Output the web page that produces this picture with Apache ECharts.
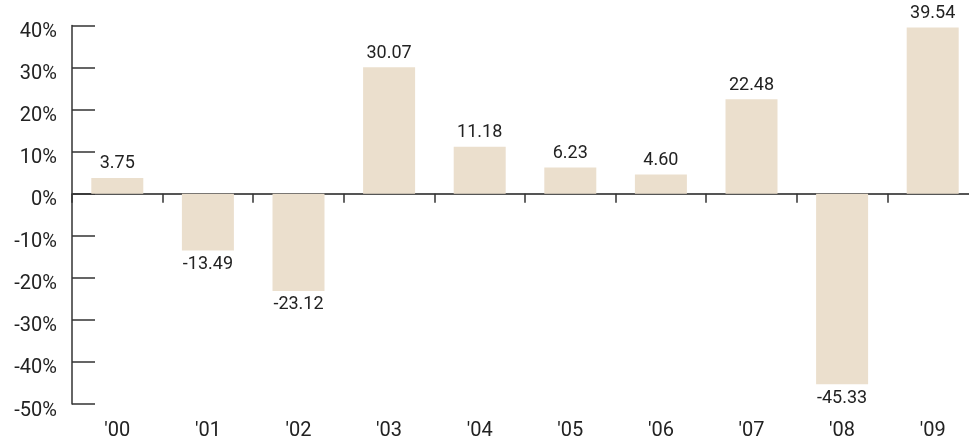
<!DOCTYPE html>
<html>
<head>
<meta charset="utf-8">
<script src="https://cdn.jsdelivr.net/npm/echarts@6/dist/echarts.min.js"></script>
<style>
  html, body { margin: 0; padding: 0; background: #fff; }
  #chart { width: 969px; height: 440px; }
</style>
</head>
<body>
<div id="chart"></div>
<script>
// Annual returns, 2000–2009 (percent)
const years = ["'00", "'01", "'02", "'03", "'04", "'05", "'06", "'07", "'08", "'09"];
const returns = [3.75, -13.49, -23.12, 30.07, 11.18, 6.23, 4.60, 22.48, -45.33, 39.54];

const FONT = 'Roboto, "Noto Sans", sans-serif';
const BAR = '#ebdfcd';
const INK = '#222';

const chart = echarts.init(document.getElementById('chart'), null, { renderer: 'canvas' });

chart.setOption({
  animation: false,
  grid: {
    left: 72, top: 25.5, width: 906, height: 378.5,
    containLabel: false,
    outerBoundsMode: 'none'
  },
  xAxis: [
    {
      // baseline at 0% with separator ticks between years
      type: 'category',
      data: years,
      position: 'bottom',
      axisLine: { onZero: true, lineStyle: { color: '#555', width: 2 } },
      axisTick: { show: true, length: 9, lineStyle: { color: '#333', width: 1.5 } },
      axisLabel: { show: false },
      splitLine: { show: false }
    },
    {
      // year labels along the bottom edge
      type: 'category',
      data: years,
      position: 'bottom',
      axisLine: { show: false, onZero: false },
      axisTick: { show: false },
      axisLabel: {
        margin: 17,
        fontFamily: FONT,
        fontSize: 20,
        color: INK
      },
      splitLine: { show: false }
    }
  ],
  yAxis: {
    type: 'value',
    min: -50,
    max: 40,
    interval: 10,
    axisLine: { show: true, onZero: false, lineStyle: { color: '#333', width: 1.5 } },
    axisTick: { show: true, inside: true, length: 23, lineStyle: { color: '#333', width: 1.5 } },
    axisLabel: {
      formatter: '{value}%',
      margin: 15,
      verticalAlign: 'top',
      lineHeight: 13,
      fontFamily: FONT,
      fontSize: 20,
      color: INK
    },
    splitLine: { show: false }
  },
  series: [{
    type: 'bar',
    xAxisIndex: 0,
    data: returns.map(v => ({
      value: v,
      label: {
        show: true,
        position: v >= 0 ? 'top' : 'bottom',
        distance: 5,
        formatter: () => v.toFixed(2),
        fontFamily: FONT,
        fontSize: 18,
        color: INK
      }
    })),
    barWidth: 52,
    itemStyle: { color: BAR }
  }]
});
</script>
</body>
</html>
